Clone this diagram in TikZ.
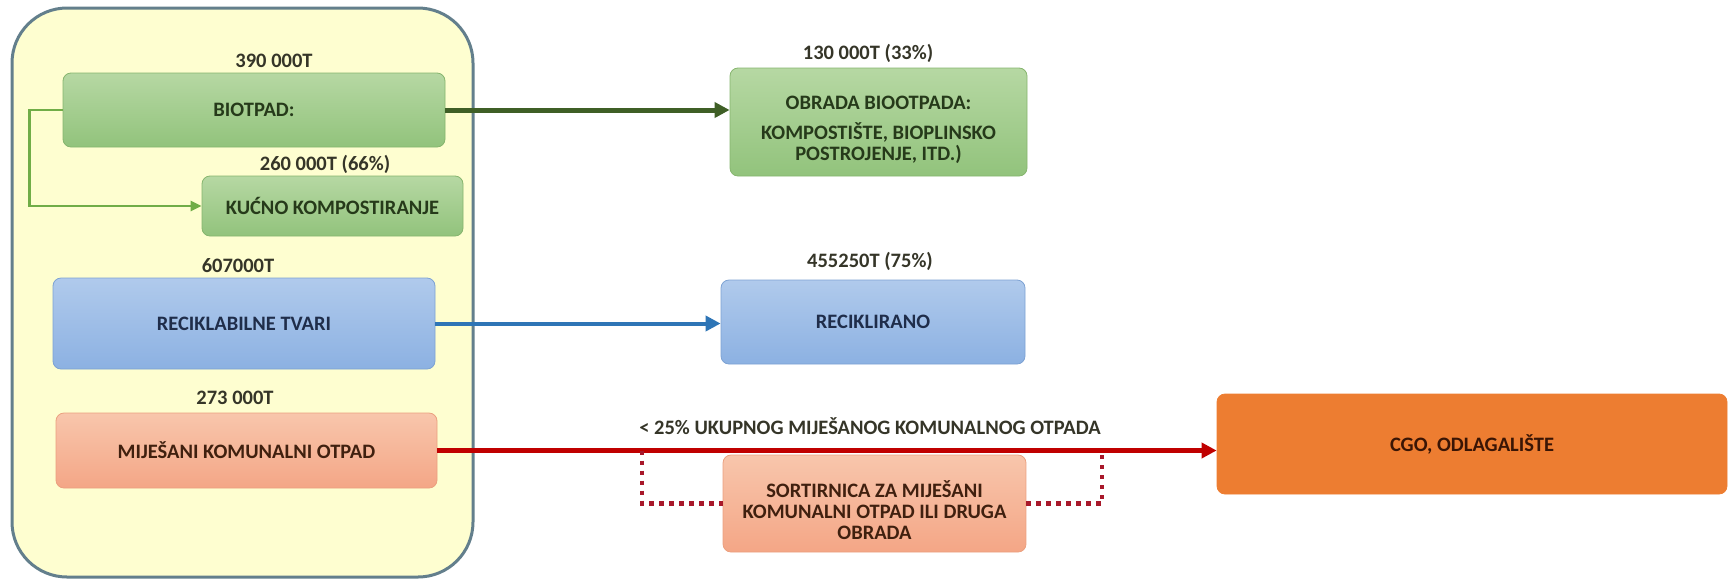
\documentclass[tikz,border=0pt]{standalone}
\usepackage{fontspec}
\setmainfont{Carlito}
\usepackage{tikz}
\usetikzlibrary{calc}
\usetikzlibrary{arrows.meta}

\definecolor{zonafondo}{HTML}{FEFED0}
\definecolor{zonaborde}{HTML}{637F8C}
\definecolor{verdearriba}{HTML}{B6D8A3}
\definecolor{verdeabajo}{HTML}{92C37C}
\definecolor{verdeborde}{HTML}{86B56E}
\definecolor{verdetexto}{HTML}{263A1A}
\definecolor{verdeflecha}{HTML}{3F5F26}
\definecolor{verdefino}{HTML}{70AD47}
\definecolor{azularriba}{HTML}{B0CAEC}
\definecolor{azulabajo}{HTML}{8CB1E2}
\definecolor{azulborde}{HTML}{7DA2D3}
\definecolor{azultexto}{HTML}{1F2D4A}
\definecolor{azulflecha}{HTML}{2E75B6}
\definecolor{salmonarriba}{HTML}{F8C6AC}
\definecolor{salmonabajo}{HTML}{F4A686}
\definecolor{salmonborde}{HTML}{EBA07F}
\definecolor{salmontexto}{HTML}{40200F}
\definecolor{naranja}{HTML}{ED7D31}
\definecolor{naranjatexto}{HTML}{3A1505}
\definecolor{rojo}{HTML}{C00000}
\definecolor{rojopunto}{HTML}{A8182A}
\definecolor{cifratexto}{HTML}{353528}

\begin{document}
\begin{tikzpicture}[x=1pt, y=-1pt,
  caja/.style={rounded corners=8pt, line width=0.8pt, inner sep=0pt, align=center,
    font=\fontsize{20.5}{21}\selectfont\bfseries},
  cajaverde/.style={caja, draw=verdeborde, top color=verdearriba, bottom color=verdeabajo, text=verdetexto},
  cajaazul/.style={caja, draw=azulborde, top color=azularriba, bottom color=azulabajo, text=azultexto},
  cajasalmon/.style={caja, draw=salmonborde, top color=salmonarriba, bottom color=salmonabajo, text=salmontexto},
  cajanaranja/.style={caja, draw=naranja, fill=naranja, text=naranjatexto},
  cifra/.style={inner sep=0pt, text=cifratexto, font=\fontsize{20.5}{21}\selectfont\bfseries},
  texto/.style={cifra, align=center},
  flecha/.style={-{Triangle[length=15pt, width=15pt]}},
  punteado/.style={line width=4.5pt, color=rojopunto, dash pattern=on 4.5pt off 5.5pt},
]
  \useasboundingbox (0,0) rectangle (1728,579);
  \draw [line width=3pt, draw=zonaborde, fill=zonafondo, rounded corners=55pt] (12,8) rectangle (473,577); % zona domacinstva

  % kutije lijevo
  \node [cajaverde, minimum width=382pt, minimum height=74pt] (bio) at (254,110) {BIOTPAD:};
  \node [cajaverde, minimum width=261pt, minimum height=60pt] (kucno) at (332.5,206) {KUĆNO KOMPOSTIRANJE};
  \node [cajaazul, minimum width=382pt, minimum height=91pt] (recikl) at (244,323.5) {RECIKLABILNE TVARI};
  \node [cajasalmon, minimum width=381pt, minimum height=75pt] (mko) at (246.5,450.5) {MIJEŠANI KOMUNALNI OTPAD};

  % kutije desno
  \node [cajaverde, minimum width=297pt, minimum height=108pt] (obrada) at (878.5,122) {};
  \node [texto, text=verdetexto] (obradatxt) at (878.5,130) {OBRADA BIOOTPADA:\\[9pt]KOMPOSTIŠTE, BIOPLINSKO\\POSTROJENJE, ITD.)};
  \node [cajaazul, minimum width=304pt, minimum height=84pt] (reciklirano) at (873,322) {RECIKLIRANO};
  \node [cajasalmon, minimum width=303pt, minimum height=97pt] (sort) at (874.5,503.5) {};
  \node [texto, text=salmontexto] (sorttxt) at (874.5,510) {SORTIRNICA ZA MIJEŠANI\\KOMUNALNI OTPAD ILI DRUGA\\OBRADA};
  \node [cajanaranja, minimum width=510pt, minimum height=100pt] (cgo) at (1472,444) {CGO, ODLAGALIŠTE};

  % kolicine
  \node [cifra] (bioT) at (274,61) {390 000T};
  \node [cifra] (kucnoT) at (325,164) {260 000T (66\%)};
  \node [cifra] (reciklT) at (238,266) {607000T};
  \node [cifra] (mkoT) at (235,398) {273 000T};
  \node [cifra] (obradaT) at (868,53) {130 000T (33\%)};
  \node [cifra] (recikliranoT) at (870,261) {455250T (75\%)};
  \node [cifra] (limite) at (870,426) {< 25\% UKUPNOG MIJEŠANOG KOMUNALNOG OTPADA};

  % strelice
  \draw [flecha, line width=5pt, verdeflecha] (bio.east) -- (bio.east -| obrada.west);
  \draw [-{Triangle[length=11pt, width=10pt]}, line width=2.8pt, verdefino] (bio.west) -- ++(-33,0) |- (kucno.west);
  \draw [flecha, line width=4pt, azulflecha] (recikl.east) -- (recikl.east -| reciklirano.west);
  \draw [flecha, line width=4.5pt, rojo] (mko.east) -- (mko.east -| cgo.west);

  % sortirnica
  \coordinate (ulaz) at (642,0 |- mko.east);
  \coordinate (izlaz) at (1102,0 |- mko.east);
  \draw [punteado] (ulaz) |- (sort.west);
  \draw [punteado] (sort.east) -| (izlaz);
\end{tikzpicture}
\end{document}
